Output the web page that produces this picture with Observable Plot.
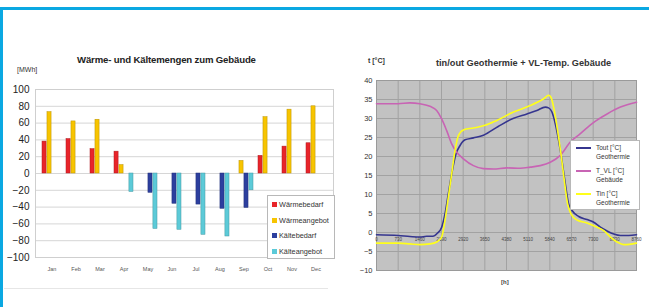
<!DOCTYPE html>
<html>
<head>
<meta charset="utf-8">
<script src="https://cdn.jsdelivr.net/npm/d3@7"></script>
<script src="https://cdn.jsdelivr.net/npm/@observablehq/plot@0.6"></script>
<style>
  html, body { margin: 0; padding: 0; background: #fff; }
  #root { position: relative; width: 649px; height: 307px; overflow: hidden; font-family: "Liberation Sans", Arial, sans-serif; }
  .abs { position: absolute; }
  .title { font-weight: bold; color: #222; white-space: nowrap; }
  .leg { position: absolute; background: #fff; border: 1px solid #b8b8b8; font-size: 7.3px; color: #333; overflow: hidden; }
  .leg .it { position: absolute; white-space: nowrap; line-height: 9px; }
  .sw { position: absolute; width: 5px; height: 5px; }
  .ln { position: absolute; height: 1.5px; width: 15px; }
</style>
</head>
<body>
<div id="root">
  <div class="abs" style="left:0;top:7px;width:649px;height:3px;background:#0aa8e2"></div>
  <div class="abs" style="left:0;top:7px;width:3px;height:300px;background:#0aa8e2"></div>
  <div class="abs" style="left:4px;top:288px;width:324px;height:1px;background:#e6e6e6"></div>

  <div id="left" class="abs" style="left:0;top:0"></div>
  <div id="right" class="abs" style="left:330px;top:0"></div>

  <div class="abs title" style="left:77px;top:54px;font-size:9.6px;letter-spacing:-0.15px">Wärme- und Kältemengen zum Gebäude</div>
  <div class="abs title" style="left:17px;top:66px;font-size:7px;font-weight:normal;color:#333">[MWh]</div>

  <div class="abs title" style="left:368px;top:57px;font-size:7px;color:#333">t [°C]</div>
  <div class="abs title" style="left:436px;top:58px;font-size:9.2px;color:#333">tin/out Geothermie + VL-Temp. Gebäude</div>
  <div class="abs title" style="left:501px;top:279px;font-size:6px;color:#444">[h]</div>

  <div id="legL" class="leg" style="left:267px;top:195px;width:66px;height:62px"></div>
  <div id="legR" class="leg" style="left:570px;top:140px;width:68px;height:68px"></div>
</div>
<script>
// ---------- Left chart data ----------
const months = ["Jan","Feb","Mar","Apr","May","Jun","Jul","Aug","Sep","Oct","Nov","Dec"];
const waermebedarf  = [38, 41, 29, 26, null, null, null, null, null, 21, 32, 36];
const waermeangebot = [73, 62, 64, 10, null, null, null, null, 15, 67, 76, 80];
const kaeltebedarf  = [null, null, null, null, -23, -36, -37, -42, -41, null, null, null];
const kaelteangebot = [null, null, null, -22, -66, -67, -73, -75, -20, null, null, null];
const barSeries = ["Wärmebedarf","Wärmeangebot","Kältebedarf","Kälteangebot"];
const barColors = ["#e8242a","#f7c400","#2c3f9e","#5ccad8"];
const mwhTicks = [-100,-80,-60,-40,-20,0,20,40,60,80,100];

// ---------- Right chart data ----------
const hourTicks = [0,730,1460,2190,2920,3650,4380,5110,5840,6570,7300,8030,8760];
const tempTicks = [-10,-5,0,5,10,15,20,25,30,35,40];
const toutHours = [0,730,1126,1460,1689,1900,2049,2196,2308,2421,2533,2680,2815,2984,3265,3603,4100,4600,5067,5404,5686,5799,5911,6024,6137,6249,6362,6474,6587,6812,7094,7319,7544,7769,7994,8219,8500,8760];
const toutVals  = [-0.6,-0.8,-1.05,-1.2,-1.0,-1.0,-0.2,1.4,4.9,10.2,15.4,20.7,22.9,24.4,24.9,25.6,27.9,30.0,31.2,32.1,33.0,32.8,31.7,28.6,24.2,18.9,12.8,7.5,5.8,4.2,3.4,2.7,1.4,0.4,-0.4,-0.8,-0.8,-0.6];
const tvlHours = [0,730,1126,1460,1801,2027,2196,2365,2533,2702,2928,3265,3603,3941,4392,4841,5180,5517,5855,6193,6530,6868,7319,7769,8219,8760];
const tvlVals  = [33.9,33.9,34.1,33.9,33.2,32.1,29.9,26.8,23.3,21.1,19.4,17.6,16.8,16.7,17.0,16.9,17.2,17.6,18.5,20.3,23.8,26.0,29.0,31.2,33.0,34.3];
const tinHours = [0,730,1126,1460,1801,2027,2196,2308,2421,2533,2646,2759,2928,3265,3659,4053,4616,5180,5630,5799,5878,5990,6102,6215,6327,6440,6552,6755,7094,7431,7656,7882,8107,8332,8760];
const tinVals  = [-2.8,-2.8,-3.0,-3.2,-3.0,-2.5,-1.2,3.2,9.3,15.4,21.6,25.5,27.0,27.5,28.2,29.5,31.7,33.4,35.2,36.1,35.6,32.1,26.8,20.7,13.7,7.5,4.9,3.3,2.5,1.4,0.5,-1.2,-2.5,-3.2,-2.8];
const lineNames = ["Tout [°C]|Geothermie","T_VL [°C]|Gebäude","Tin [°C]|Geothermie"];
const lineColors = ["#35358f","#c864b4","#ffff1a"];

// ---------- Build left chart ----------
const barValues = [waermebedarf, waermeangebot, kaeltebedarf, kaelteangebot];
const rows = [];
barValues.forEach((arr, i) => arr.forEach((v, j) => { if (v != null) rows.push({month: months[j], series: barSeries[i], value: v}); }));

const L = {w: 340, h: 307, ml: 35, mr: 7, mt: 89, mb: 50};
const step = (L.w - L.ml - L.mr) / (12 - 0.2 + 0.2);
const bw = step * 0.8 / 4;

const leftPlot = Plot.plot({
  width: L.w, height: L.h,
  marginLeft: L.ml, marginRight: L.mr, marginTop: L.mt, marginBottom: L.mb,
  style: {fontFamily: "Liberation Sans, Arial, sans-serif", background: "transparent"},
  x: {domain: months, paddingInner: 0.2, paddingOuter: 0.1, axis: null},
  y: {domain: [-100, 100], axis: null},
  marks: [
    Plot.ruleY(mwhTicks, {stroke: "#d6d6d6", strokeWidth: 1}),
    Plot.frame({stroke: "#cfcfcf"}),
    ...barSeries.map((s, i) => Plot.barY(rows.filter(r => r.series === s), {
      x: "month", y: "value", fill: barColors[i], stroke: d3.color(barColors[i]).darker(0.8).formatHex(), strokeWidth: 0.5,
      insetLeft: i * bw, insetRight: (3 - i) * bw
    })),
    Plot.axisY({ticks: mwhTicks, tickSize: 0, tickPadding: 6, fontSize: 10, label: null, fill: "#222"}),
    Plot.axisX({tickSize: 0, tickPadding: 10, fontSize: 5.5, label: null, fill: "#555"})
  ]
});
document.getElementById("left").appendChild(leftPlot);

// ---------- Build right chart ----------
const lineRows = [];
[[toutHours, toutVals], [tvlHours, tvlVals], [tinHours, tinVals]].forEach(([hs, vs], i) =>
  hs.forEach((h, j) => lineRows.push({h, t: vs[j], s: lineNames[i]})));

const rightPlot = Plot.plot({
  width: 319, height: 307,
  marginLeft: 46, marginRight: 13, marginTop: 80, marginBottom: 37,
  style: {fontFamily: "Liberation Sans, Arial, sans-serif", background: "transparent"},
  x: {domain: [0, 8760], axis: null},
  y: {domain: [-10, 40], axis: null},
  marks: [
    Plot.frame({fill: "#c2c2c2"}),
    Plot.ruleX(hourTicks, {stroke: "#a2a2a2", strokeWidth: 1}),
    Plot.ruleY(tempTicks, {stroke: "#a2a2a2", strokeWidth: 1}),
    Plot.frame({stroke: "#9a9a9a"}),
    Plot.axisY({ticks: tempTicks, tickSize: 0, tickPadding: 4, fontSize: 7.5, label: null, fill: "#333"}),
    Plot.text(hourTicks, {x: d => d, y: 0, dy: 7, text: d => String(d), fontSize: 4.5, fill: "#444"}),
    ...lineNames.map((n, i) => Plot.line(lineRows.filter(r => r.s === n), {
      x: "h", y: "t", stroke: lineColors[i], strokeWidth: 1.6, curve: "monotone-x"
    }))
  ]
});
document.getElementById("right").appendChild(rightPlot);

// ---------- Legends ----------
const legL = document.getElementById("legL");
barSeries.forEach((s, i) => {
  const y = 6 + i * 15.5;
  legL.insertAdjacentHTML("beforeend",
    `<div class="sw" style="left:4px;top:${y}px;background:${barColors[i]}"></div><div class="it" style="left:11px;top:${y - 2}px">${s}</div>`);
});
const legR = document.getElementById("legR");
lineNames.forEach((n, i) => {
  const y = 6 + i * 23;
  const [a, b] = n.split("|");
  legR.insertAdjacentHTML("beforeend",
    `<div class="ln" style="left:5px;top:${y}px;background:${lineColors[i]}"></div><div class="it" style="left:25px;top:${y - 4}px;font-size:6.5px">${a}<br>${b}</div>`);
});
</script>
</body>
</html>
